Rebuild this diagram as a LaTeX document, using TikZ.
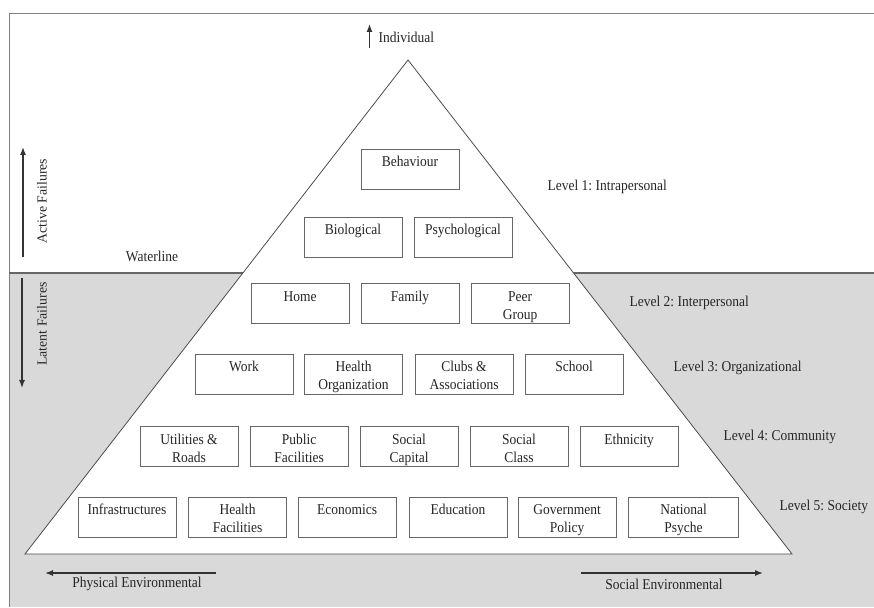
\documentclass[tikz,border=0pt]{standalone}
\usepackage{fontspec}
\setmainfont{Liberation Serif}[FakeStretch=0.9]
\newfontfamily\sidefont{Liberation Serif}
\usetikzlibrary{arrows.meta}
\frenchspacing
\definecolor{seagray}{gray}{0.85}
\definecolor{edgegray}{gray}{0.3}
\definecolor{boxgray}{gray}{0.4}
\tikzset{
  factor/.style={draw=boxgray, line width=0.9pt, fill=white, inner sep=1pt,
    execute at begin node={\begin{minipage}[c][38pt][t]{#1pt}\centering\vspace*{4pt}\strut},
    execute at end node={\end{minipage}}},
  factor/.default=96,
  levellabel/.style={anchor=west},
  sidelabel/.style={rotate=90, font=\sidefont\fontsize{13.8}{15}\selectfont},
  flow/.style={->, line width=1.3pt, draw=black!80},
}
\begin{document}
\begin{tikzpicture}[x=1pt,y=1pt,>={Latex[length=8pt,width=6pt]},
  font=\fontsize{15}{18}\selectfont, text=black!85]
  \useasboundingbox (0,0) rectangle (874,607);
  % below the waterline
  \fill[seagray] (9,0) rectangle (874,334);
  \draw[gray, line width=0.8pt] (9,0) -- (9,594) -- (874,594);
  \draw[black!60, line width=1.2pt] (9,334) -- (874,334);
  % pyramid
  \draw[edgegray, fill=white, line width=0.8pt] (408,547) -- (792,53) -- (25,53) -- cycle;

  % Level 1
  \node[factor] (behaviour) at (410,438) {Behaviour};
  \node[factor] (biological) at (353,370) {Biological};
  \node[factor] (psychological) at (463,370) {Psychological};
  % Level 2
  \node[factor] (home) at (300,303.5) {Home};
  \node[factor] (family) at (410,303.5) {Family};
  \node[factor] (peer) at (520,303.5) {Peer\\Group};
  % Level 3
  \node[factor] (work) at (244,233) {Work};
  \node[factor] (healthorg) at (353.5,233) {Health\\Organization};
  \node[factor] (clubs) at (464,233) {Clubs \&\\Associations};
  \node[factor] (school) at (574,233) {School};
  % Level 4
  \node[factor] (utilities) at (189,160.5) {Utilities \&\\Roads};
  \node[factor] (public) at (299,160.5) {Public\\Facilities};
  \node[factor] (capital) at (409,160.5) {Social\\Capital};
  \node[factor] (class) at (519,160.5) {Social\\Class};
  \node[factor] (ethnicity) at (629,160.5) {Ethnicity};
  % Level 5
  \node[factor] (infra) at (127,90) {Infrastructures};
  \node[factor] (healthfac) at (237.5,90) {Health\\Facilities};
  \node[factor] (economics) at (347,90) {Economics};
  \node[factor] (education) at (458,90) {Education};
  \node[factor] (policy) at (567,90) {Government\\Policy};
  \node[factor=108] (psyche) at (683.5,90) {National\\Psyche};

  % level names
  \node[levellabel] (lvlone) at (544,420) {Level 1: Intrapersonal};
  \node[levellabel] (lvltwo) at (626,304) {Level 2: Interpersonal};
  \node[levellabel] (lvlthree) at (670,239) {Level 3: Organizational};
  \node[levellabel] (lvlfour) at (720,170) {Level 4: Community};
  \node[levellabel] (lvlfive) at (776,100) {Level 5: Society};

  % side arrows
  \node (waterline) at (152,351) {Waterline};
  \node[levellabel] (individual) at (375,570) {Individual};
  \coordinate (indtail) at (369.5,559);
  \coordinate (indhead) at (369.5,583);
  \draw[flow] (indtail) -- (indhead);

  \node[sidelabel] (active) at (42,406) {Active Failures};
  \coordinate (acttail) at (23,350);
  \coordinate (acthead) at (23,460);
  \draw[flow] (acttail) -- (acthead);

  \node[sidelabel] (latent) at (42,283) {Latent Failures};
  \coordinate (lattail) at (22,329);
  \coordinate (lathead) at (22,219);
  \draw[flow] (lattail) -- (lathead);

  \node (physical) at (137,23) {Physical Environmental};
  \coordinate (phystail) at (216,34);
  \coordinate (physhead) at (45,34);
  \draw[flow] (phystail) -- (physhead);

  \node (social) at (664,23) {Social Environmental};
  \coordinate (soctail) at (581,34);
  \coordinate (sochead) at (763,34);
  \draw[flow] (soctail) -- (sochead);
\end{tikzpicture}
\end{document}
